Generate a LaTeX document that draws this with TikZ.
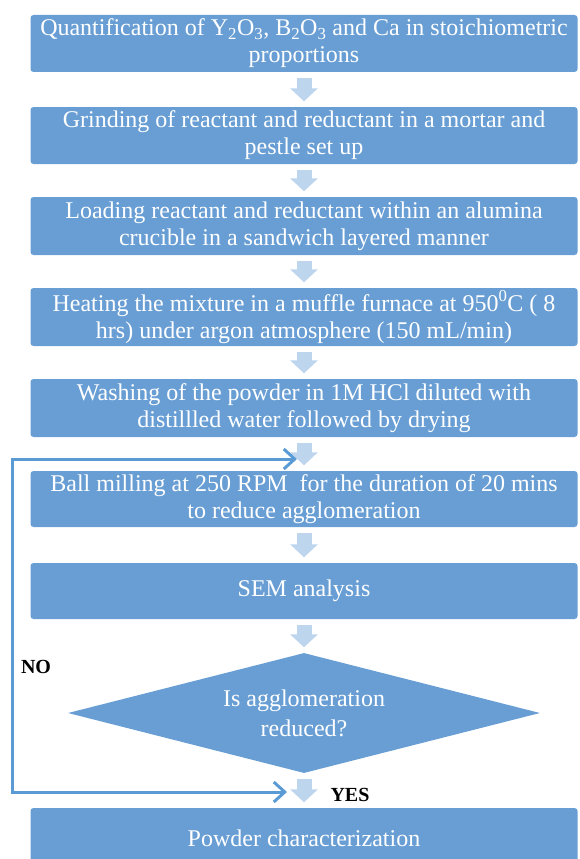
\documentclass[tikz,border=0pt]{standalone}
\usepackage{fontspec}
\setmainfont{Liberation Serif}
\usetikzlibrary{arrows.meta,shapes.geometric}

\definecolor{boxblue}{RGB}{104,158,212}
\definecolor{arrowblue}{RGB}{190,213,238}
\definecolor{lineblue}{RGB}{91,155,213}

\tikzset{
  stepbox/.style={fill=boxblue, rounded corners=3pt, minimum width=547pt,
    inner sep=0pt, text=white, align=center, font=\fontsize{24}{27}\selectfont},
  decbox/.style={diamond, fill=boxblue, aspect=3.9, minimum width=472pt,
    minimum height=120pt, inner sep=0pt, text=white, align=center,
    font=\fontsize{24}{30}\selectfont},
  flow/.style={draw=arrowblue, line width=15pt, -{Triangle[width=27pt,length=13pt]},
    shorten <=5.5pt, shorten >=5.5pt},
  loopline/.style={draw=lineblue, line width=3pt,
    {Straight Barb[length=11pt,width=20pt]}-{Straight Barb[length=11pt,width=20pt]}},
  tag/.style={font=\fontsize{20}{20}\selectfont\bfseries}
}

\begin{document}
\begin{tikzpicture}[x=1pt,y=-1pt]
  \useasboundingbox (0,0) rectangle (579,859);

  \node[stepbox, minimum height=57pt] (quant) at (304,43.5)
    {Quantification of Y\textsubscript{2}O\textsubscript{3}, B\textsubscript{2}O\textsubscript{3} and Ca in stoichiometric\\proportions};
  \node[stepbox, minimum height=57pt] (grind) at (304,135.5)
    {Grinding of reactant and reductant in a mortar and\\pestle set up};
  \node[stepbox, minimum height=58pt] (load) at (304,226)
    {Loading reactant and reductant within an alumina\\crucible in a sandwich layered manner};
  \node[stepbox, minimum height=58pt] (heat) at (304,317)
    {Heating the mixture in a muffle furnace at 950\textsuperscript{0}C ( 8\\hrs) under argon atmosphere (150 mL/min)};
  \node[stepbox, minimum height=58pt] (wash) at (304,408)
    {Washing of the powder in 1M HCl diluted with\\distillled water followed by drying};
  \node[stepbox, minimum height=56pt] (mill) at (304,499)
    {Ball milling at 250 RPM\ \ for the duration of 20 mins\\to reduce agglomeration};
  \node[stepbox, minimum height=56pt] (sem) at (304,591) {SEM analysis};
  \node[decbox] (check) at (304,713) {Is agglomeration\\reduced?};
  \node[stepbox, minimum height=60pt] (char) at (304,838) {Powder characterization};

  \draw[flow] (quant) -- (grind);
  \draw[flow] (grind) -- (load);
  \draw[flow] (load) -- (heat);
  \draw[flow] (heat) -- (wash);
  \draw[flow] (wash) -- (mill);
  \draw[flow] (mill) -- (sem);
  \draw[flow] (sem) -- (check);
  \draw[flow] (check) -- (char);

  % loop back when NO
  \coordinate (backout) at (287,792);
  \coordinate (backin) at (297,459);
  \draw[loopline] (backout) -- ++(-274.5,0) |- (backin);

  \node[tag] (no) at (36,667) {NO};
  \node[tag] (yes) at (350,795) {YES};
\end{tikzpicture}
\end{document}
